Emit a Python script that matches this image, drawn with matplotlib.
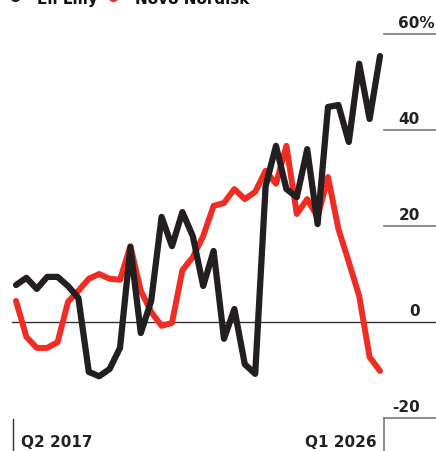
import matplotlib

matplotlib.use("Agg")
import matplotlib.pyplot as plt  # noqa: E402
import numpy as np  # noqa: E402

# quarterly share-price change (%), Q2 2017 .. Q1 2026
lilly = [7.7, 9.2, 6.9, 9.4, 9.4, 7.5, 5.0, -10.4, -11.3, -9.8, -5.4, 15.6,
         -2.3, 4.4, 21.9, 15.8, 22.9, 17.9, 7.5, 14.8, -3.5, 2.7, -8.8, -10.8,
         28.3, 36.7, 27.7, 26.0, 36.0, 20.4, 44.8, 45.2, 37.5, 53.8, 42.3, 55.4]
novo = [4.4, -3.1, -5.4, -5.4, -4.2, 4.2, 6.5, 9.0, 10.0, 9.0, 8.8, 15.8,
        6.5, 2.1, -0.8, -0.2, 10.8, 13.5, 17.9, 24.2, 24.8, 27.7, 25.6, 27.1,
        31.5, 28.8, 36.7, 22.5, 25.6, 21.9, 30.2, 19.4, 12.5, 5.4, -7.3, -10.2]
yticks = [60, 40, 20, 0, -20]
first_label, last_label = "Q2 2017", "Q1 2026"

BLACK = "#231f20"
RED = "#ef2d23"
GRID = "#7a7a7a"
W, H = 436, 452
FONT = dict(family="DejaVu Sans", fontweight="bold", fontsize=11)

fig = plt.figure(figsize=(W / 100, H / 100), dpi=100)
ax = fig.add_axes([0, 0, 1, 1])
ax.axis("off")

x = np.arange(len(lilly))
# pixel layout: first quarter at x=16px, 10.4px per quarter; zero at y=323px, 4.8px per point
ax.set_xlim(-16 / 10.4, (W - 16) / 10.4)
ax.set_ylim((323 - H) / 4.8, 323 / 4.8)

ytr = ax.get_yaxis_transform()
gx0 = 384 / W
for v in yticks:
    if v == 0:
        ax.plot([12 / W, 1], [0, 0], color="#333333", lw=1.0, transform=ytr, zorder=1)
    else:
        ax.plot([gx0, 1], [v, v], color=GRID, lw=1.2, transform=ytr, zorder=1)
    if v == yticks[0]:
        label, xpos = f"{v}%", 435 / W
    else:
        label, xpos = str(v), 420 / W
    ax.annotate(label, xy=(xpos, v), xycoords=ytr, xytext=(0, 5),
                textcoords="offset points", ha="right", va="baseline",
                color="#222222", **FONT)

# bracket ticks at the bottom
ax.plot([gx0, gx0], [yticks[-1], ax.get_ylim()[0]], color=GRID, lw=1.2,
        transform=ytr, zorder=1)
ax.plot([13 / W, 13 / W], [0, 32 / H], color="#333333", lw=1.0,
        transform=ax.transAxes)
ax.text(21 / W, 5 / H, first_label, transform=ax.transAxes, ha="left",
        va="baseline", color="#222222", **FONT)
ax.text(377 / W, 5 / H, last_label, transform=ax.transAxes, ha="right",
        va="baseline", color="#222222", **FONT)

ax.plot(x, novo, color=RED, lw=4.3, solid_capstyle="round",
        solid_joinstyle="round", zorder=3)
ax.plot(x, lilly, color=BLACK, lw=4.5, solid_capstyle="round",
        solid_joinstyle="round", zorder=4)

# legend, clipped by the top edge as in the source
for px, label, col in [(15, "Eli Lilly", BLACK), (113, "Novo Nordisk", RED)]:
    ax.plot([px / W], [1 + 3 / H], "o", ms=7, color=col,
            transform=ax.transAxes, clip_on=False)
    ax.text((px + 22) / W, 1 - 4 / H, label, transform=ax.transAxes,
            ha="left", va="baseline", color="#111111", **FONT)

fig.savefig("out.png", dpi=100)
